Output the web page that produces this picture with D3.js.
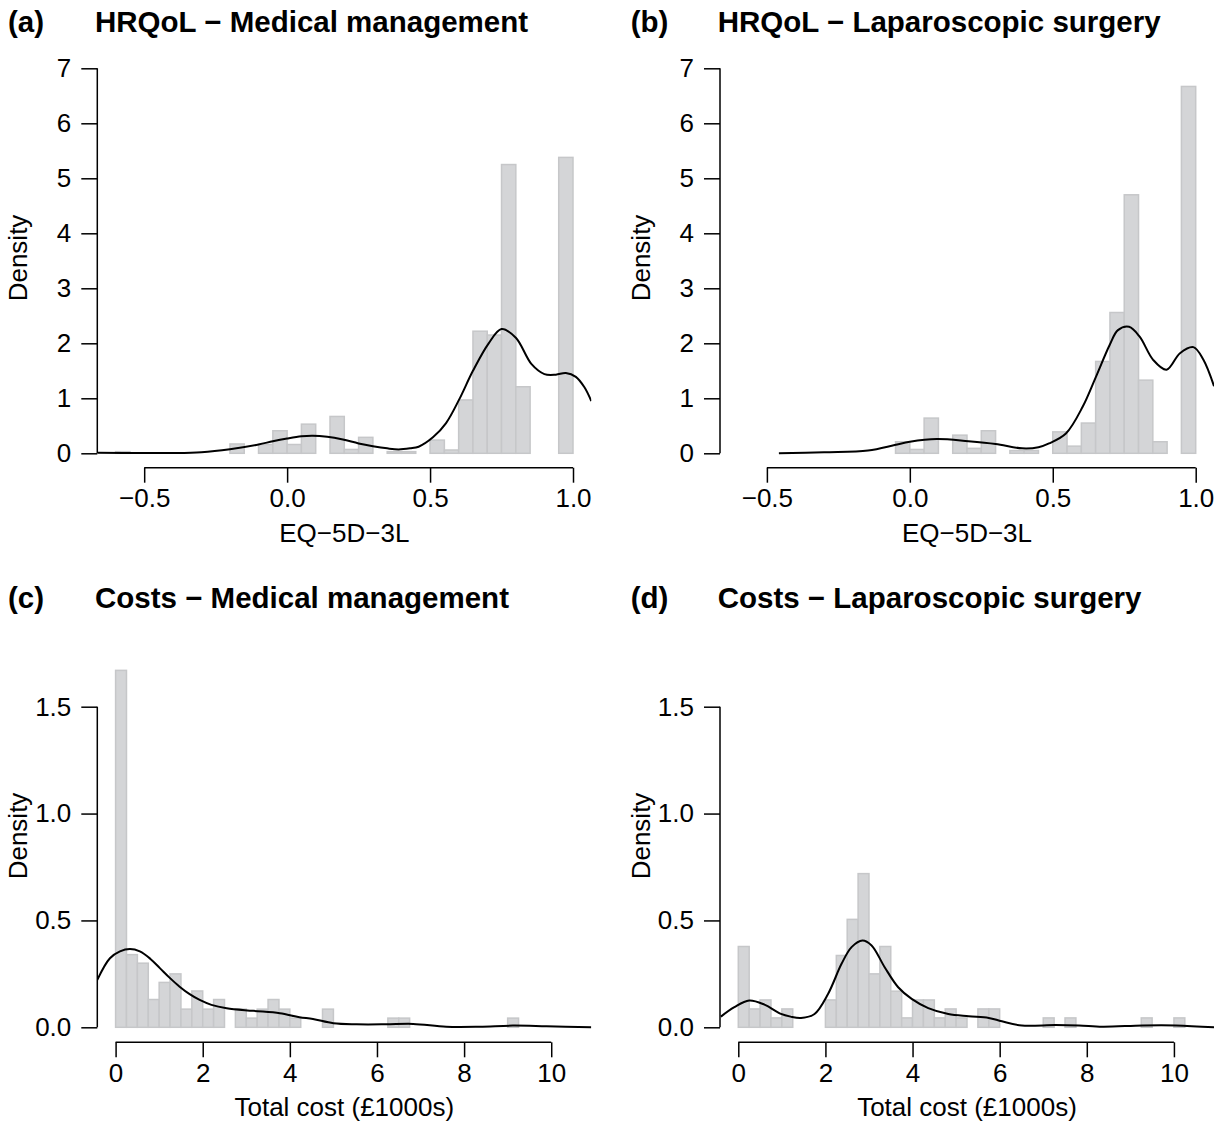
<!DOCTYPE html>
<html>
<head>
<meta charset="utf-8">
<script src="https://d3js.org/d3.v7.min.js"></script>
<style>
  body { margin: 0; background: #fff; }
  text { font-family: "Liberation Sans", Arial, Helvetica, sans-serif; fill: #000; }
  .bar { fill: #d4d5d7; stroke: #c6c7c9; stroke-width: 1.5; }
  .dens { fill: none; stroke: #000; stroke-width: 2; }
</style>
</head>
<body>
<svg width="1226" height="1141"></svg>
<script>
// ---- histogram bins (density per bin) ----
var hrqolBinStart = -0.6, hrqolBinWidth = 0.05;
var hrqolMedBins = [0.03,0,0,0,0,0,0,0,0.17,0,0.16,0.41,0.16,0.53,0,0.67,0.07,0.29,0,0.03,0.03,0,0.24,0.06,0.97,2.22,2.15,5.25,1.21,0,0,5.38];
var hrqolLapBins = [0,0,0,0,0,0,0,0,0,0,0,0.21,0.07,0.64,0,0.33,0.09,0.41,0,0.05,0.05,0,0.39,0.13,0.55,1.67,2.56,4.70,1.33,0.21,0,6.67];

var costBinStart = 0, costBinWidth = 0.25;
var costMedBins = [1.67,0.34,0.30,0.13,0.21,0.25,0.085,0.17,0.085,0.13,0,0.085,0.043,0.085,0.13,0.085,0.043,0,0,0.085,0,0,0,0,0,0.043,0.043,0,0,0,0,0,0,0,0,0,0.043];
var costLapBins = [0.378,0.086,0.128,0.044,0.086,0,0,0,0.128,0.336,0.505,0.719,0.25,0.378,0.169,0.044,0.128,0.128,0.044,0.086,0.044,0,0.086,0.086,0,0,0,0,0.044,0,0.044,0,0,0,0,0,0,0.044,0,0,0.044,0];

// ---- kernel density curves ----
var hrqolMedDensX = [-0.664,-0.5,-0.4,-0.3,-0.2,-0.1,-0.05,0.0,0.05,0.09,0.14,0.195,0.25,0.3,0.35,0.39,0.43,0.46,0.51,0.556,0.602,0.65,0.705,0.75,0.80,0.855,0.9,0.94,0.975,1.01,1.04,1.064];
var hrqolMedDensY = [0.01,0.005,0.005,0.02,0.075,0.16,0.22,0.27,0.31,0.32,0.30,0.25,0.18,0.13,0.09,0.07,0.09,0.12,0.29,0.55,0.98,1.5,2.0,2.26,2.1,1.62,1.44,1.43,1.46,1.39,1.2,0.95];
var hrqolLapDensX = [-0.458,-0.3,-0.146,-0.053,0.0,0.094,0.205,0.3,0.393,0.45,0.487,0.546,0.605,0.651,0.699,0.728,0.767,0.804,0.851,0.898,0.945,0.992,1.027,1.064];
var hrqolLapDensY = [0,0.02,0.05,0.15,0.21,0.26,0.22,0.17,0.09,0.11,0.18,0.36,0.85,1.39,1.97,2.24,2.30,2.12,1.70,1.52,1.82,1.93,1.70,1.22];
var costMedDensX = [-0.42,-0.13,0.1,0.33,0.557,0.8,1.016,1.25,1.47,1.7,1.93,2.2,2.55,3.16,3.77,4.22,4.53,5.0,5.53,6.2,6.83,7.59,8.36,9.12,9.89,10.92];
var costMedDensY = [0.222,0.323,0.355,0.366,0.355,0.32,0.277,0.23,0.19,0.155,0.128,0.105,0.089,0.077,0.066,0.047,0.039,0.019,0.014,0.014,0.016,0.003,0.003,0.008,0.005,0.0];
var costLapDensX = [-0.4,-0.09,0.25,0.6,0.98,1.2,1.44,1.75,2.06,2.37,2.6,2.85,3.06,3.36,3.67,3.98,4.36,4.82,5.29,5.75,6.05,6.51,7.28,7.82,8.36,9.28,10.05,10.92];
var costLapDensY = [0.05,0.094,0.125,0.106,0.0625,0.05,0.044,0.0625,0.156,0.297,0.375,0.406,0.383,0.281,0.1875,0.133,0.09,0.0625,0.052,0.044,0.028,0.008,0.011,0.009,0.003,0.009,0.009,0.0];

// ---- axes / labels ----
var hrqolXTicks = [-0.5, 0, 0.5, 1.0];
var hrqolYTicks = [0,1,2,3,4,5,6,7];
var costXTicks = [0,2,4,6,8,10];
var costYTicks = [0,0.5,1.0,1.5];
var panelTags = ["(a)", "(b)", "(c)", "(d)"];
var panelTitles = ["HRQoL \u2212 Medical management", "HRQoL \u2212 Laparoscopic surgery",
                   "Costs \u2212 Medical management", "Costs \u2212 Laparoscopic surgery"];
var hrqolXLabel = "EQ\u22125D\u22123L";
var costXLabel = "Total cost (\u00a31000s)";

var svg = d3.select("svg");

// R style xlim with 4% extension
function extend(lim) {
  var d = (lim[1] - lim[0]) * 0.04;
  return [lim[0] - d, lim[1] + d];
}

function drawPanel(p) {
  var g = svg.append("g").attr("transform", "translate(" + p.dx + "," + p.dy + ")");
  var L = 97.3, R = 591.3;
  var x = d3.scaleLinear().domain(extend(p.xlim)).range([L, R]);
  var y = d3.scaleLinear().domain(p.yDom).range(p.yRange);

  var clipId = "clip" + p.idx;
  g.append("clipPath").attr("id", clipId)
    .append("rect").attr("x", L).attr("y", 0).attr("width", R - L).attr("height", p.xAxisY);

  var plot = g.append("g").attr("clip-path", "url(#" + clipId + ")");

  plot.selectAll(".bar").data(p.bins).enter().append("rect")
    .attr("class", "bar")
    .attr("x", function(d, i) { return x(p.binStart + i * p.binWidth); })
    .attr("width", function(d, i) { return x(p.binStart + (i + 1) * p.binWidth) - x(p.binStart + i * p.binWidth); })
    .attr("y", function(d) { return y(d); })
    .attr("height", function(d) { return y(0) - y(d); });

  var pts = p.densX.map(function(v, i) { return [v, p.densY[i]]; });
  plot.append("path").datum(pts)
    .attr("class", "dens")
    .attr("d", d3.line().x(function(d) { return x(d[0]); }).y(function(d) { return y(d[1]); })
      .curve(d3.curveCatmullRom.alpha(0.5)));

  // y axis
  var ya = g.append("g").attr("transform", "translate(" + L + ",0)")
    .call(d3.axisLeft(y).tickValues(p.yTicks).tickSize(16).tickPadding(10)
      .tickFormat(p.yFmt));
  ya.select(".domain").remove();
  ya.append("line").attr("x1", 0).attr("x2", 0)
    .attr("y1", y(p.yTicks[0])).attr("y2", y(p.yTicks[p.yTicks.length - 1]))
    .attr("stroke", "#000").attr("stroke-width", 1.5);
  ya.selectAll("line").attr("stroke-width", 1.5);
  ya.selectAll("text").style("font-size", "26px")
    .style("font-family", "'Liberation Sans', Arial, sans-serif");

  // x axis
  var xa = g.append("g").attr("transform", "translate(0," + p.xAxisY + ")")
    .call(d3.axisBottom(x).tickValues(p.xTicks).tickSize(15).tickPadding(6)
      .tickFormat(p.xFmt));
  xa.select(".domain").remove();
  xa.append("line").attr("y1", 0).attr("y2", 0)
    .attr("x1", x(p.xTicks[0])).attr("x2", x(p.xTicks[p.xTicks.length - 1]))
    .attr("stroke", "#000").attr("stroke-width", 1.5);
  xa.selectAll("line").attr("stroke-width", 1.5);
  xa.selectAll("text").style("font-size", "26px")
    .style("font-family", "'Liberation Sans', Arial, sans-serif");

  g.append("text").attr("x", (L + R) / 2).attr("y", p.xAxisY + 74)
    .attr("text-anchor", "middle").style("font-size", "26px").text(p.xLabel);

  g.append("text")
    .attr("transform", "translate(27," + p.yMid + ") rotate(-90)")
    .attr("text-anchor", "middle").style("font-size", "26px").text("Density");

  g.append("text").attr("x", 8).attr("y", p.titleY)
    .style("font-size", "29.5px").style("font-weight", "bold").text(panelTags[p.idx]);
  g.append("text").attr("x", 95).attr("y", p.titleY)
    .style("font-size", "29.5px").style("font-weight", "bold").text(panelTitles[p.idx]);
}

var hrqolFmt = function(d) { return d3.format(".1f")(d).replace("-", "\u2212"); };
var intFmt = function(d) { return d; };
var costYFmt = function(d) { return d3.format(".1f")(d); };

var colDx = 622.7;

drawPanel({ idx: 0, dx: 0, dy: 0, xlim: [-0.6, 1.0], yDom: [0, 7], yRange: [453.3, 68.3],
  xAxisY: 467.7, yMid: 258, titleY: 32, bins: hrqolMedBins, binStart: hrqolBinStart, binWidth: hrqolBinWidth,
  densX: hrqolMedDensX, densY: hrqolMedDensY, xTicks: hrqolXTicks, yTicks: hrqolYTicks,
  xFmt: hrqolFmt, yFmt: intFmt, xLabel: hrqolXLabel });
drawPanel({ idx: 1, dx: colDx, dy: 0, xlim: [-0.6, 1.0], yDom: [0, 7], yRange: [453.3, 68.3],
  xAxisY: 467.7, yMid: 258, titleY: 32, bins: hrqolLapBins, binStart: hrqolBinStart, binWidth: hrqolBinWidth,
  densX: hrqolLapDensX, densY: hrqolLapDensY, xTicks: hrqolXTicks, yTicks: hrqolYTicks,
  xFmt: hrqolFmt, yFmt: intFmt, xLabel: hrqolXLabel });
drawPanel({ idx: 2, dx: 0, dy: 0, xlim: [0, 10.5], yDom: [0, 1.5], yRange: [1027.3, 706.7],
  xAxisY: 1042.3, yMid: 836, titleY: 608, bins: costMedBins, binStart: costBinStart, binWidth: costBinWidth,
  densX: costMedDensX, densY: costMedDensY, xTicks: costXTicks, yTicks: costYTicks,
  xFmt: intFmt, yFmt: costYFmt, xLabel: costXLabel });
drawPanel({ idx: 3, dx: colDx, dy: 0, xlim: [0, 10.5], yDom: [0, 1.5], yRange: [1027.3, 706.7],
  xAxisY: 1042.3, yMid: 836, titleY: 608, bins: costLapBins, binStart: costBinStart, binWidth: costBinWidth,
  densX: costLapDensX, densY: costLapDensY, xTicks: costXTicks, yTicks: costYTicks,
  xFmt: intFmt, yFmt: costYFmt, xLabel: costXLabel });
</script>
</body>
</html>
